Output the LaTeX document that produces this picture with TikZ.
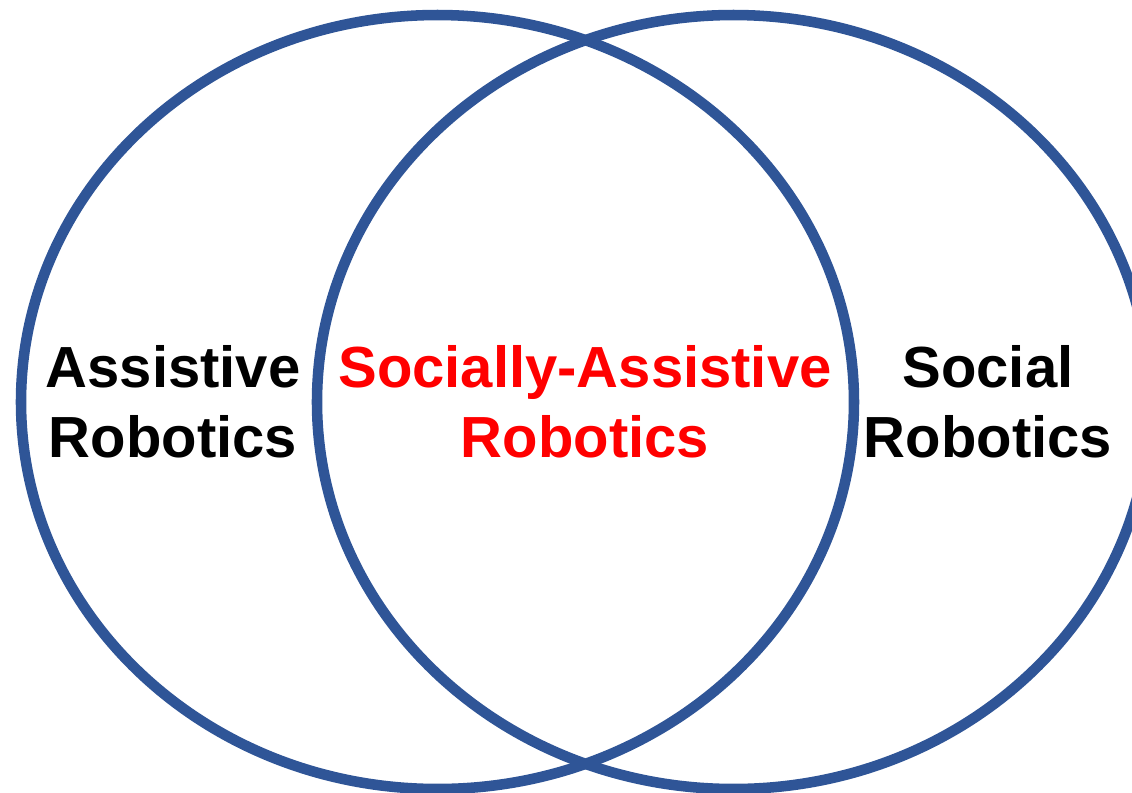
\documentclass[tikz,border=0pt]{standalone}
\usepackage{fontspec}
\setmainfont{Liberation Sans}
\usetikzlibrary{shapes.geometric}

\definecolor{setblue}{RGB}{47,85,151}
\definecolor{sarred}{RGB}{255,0,0}

\begin{document}
\begin{tikzpicture}[x=0.1mm, y=-0.1mm,
	set/.style={draw=setblue, line width=3pt, ellipse, inner sep=0pt,
		minimum width=83.3mm, minimum height=77.4mm},
	lbl/.style={align=center, inner sep=0pt,
		font=\fontsize{16.5}{20}\selectfont\bfseries}]
	\clip (0, 0) rectangle (1132, 792);
	\coordinate (cA) at (437.5, 402);
	\coordinate (cS) at (733.5, 402);
	% Sets
	\node[set] (assistive) at (cA) {};
	\node[set] (social) at (cS) {};
	% Labels
	\node[lbl] (lA) at (173, 402) {Assistive\\Robotics};
	\node[lbl, sarred] (lSA) at (585, 402) {Socially-Assistive\\Robotics};
	\node[lbl] (lS) at (988, 402) {Social\\Robotics};
\end{tikzpicture}
\end{document}
